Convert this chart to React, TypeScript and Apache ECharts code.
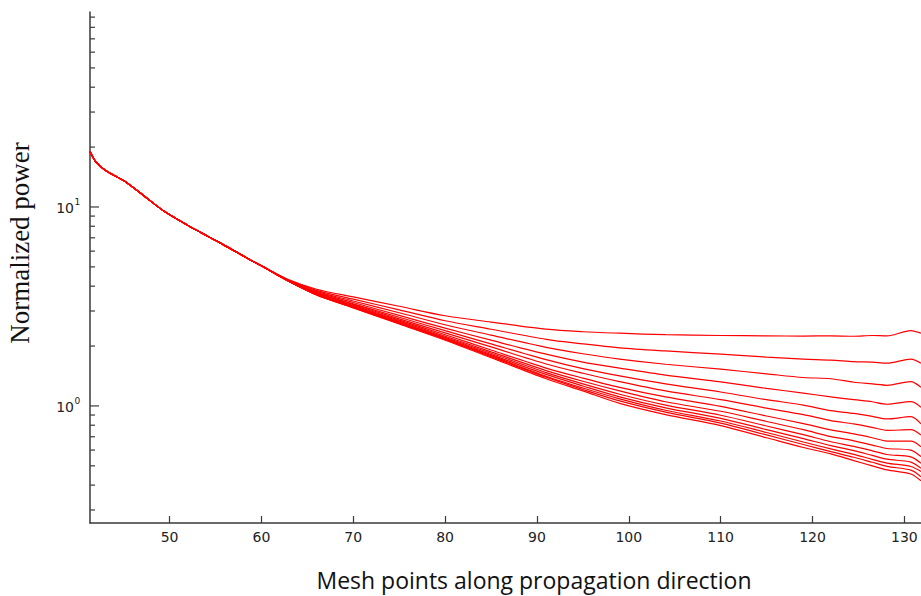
import React, { useEffect, useRef } from "react";
import * as echarts from "echarts";

// x range of the plot (mesh points)
const X_MIN = 41.34;
const X_MAX = 131.81;
const Y_MIN = 0.258;
const Y_MAX = 95.5;

// common beginning shared by every curve
const prefixX = [41.34, 42.0, 43.0, 44.1, 45.2, 47.3, 49.5, 52.8, 55.5, 58.8, 60];
const prefixY = [19.0, 16.8, 15.3, 14.3, 13.4, 11.3, 9.45, 7.7, 6.6, 5.42, 5.06];

// where the curves fan out
const tailX = [63, 66, 70, 75, 80, 85, 91, 95, 99, 104, 110, 115, 119, 122, 124.5, 126.5, 128.1, 130.7, 131.81];

const line1 = [4.30, 3.86, 3.53, 3.17, 2.84, 2.64, 2.43, 2.36, 2.32, 2.28, 2.26, 2.25, 2.245, 2.25, 2.24, 2.26, 2.25, 2.39, 2.32];
const line2 = [4.28, 3.81, 3.44, 3.04, 2.68, 2.43, 2.16, 2.05, 1.96, 1.89, 1.82, 1.76, 1.72, 1.70, 1.67, 1.66, 1.64, 1.72, 1.64];
const line3 = [4.27, 3.765, 3.37, 2.94, 2.56, 2.27, 1.97, 1.83, 1.72, 1.62, 1.53, 1.45, 1.39, 1.37, 1.315, 1.29, 1.27, 1.325, 1.24];
const line4 = [4.26, 3.73, 3.31, 2.85, 2.46, 2.14, 1.82, 1.66, 1.55, 1.43, 1.32, 1.225, 1.16, 1.11, 1.075, 1.05, 1.02, 1.05, 0.985];
const line5 = [4.25, 3.70, 3.26, 2.79, 2.39, 2.05, 1.71, 1.54, 1.415, 1.29, 1.175, 1.075, 1.01, 0.947, 0.917, 0.887, 0.86, 0.883, 0.812];
const line6 = [4.24, 3.683, 3.23, 2.74, 2.33, 1.98, 1.625, 1.46, 1.325, 1.19, 1.075, 0.975, 0.904, 0.844, 0.812, 0.78, 0.754, 0.76, 0.715];
const line7 = [4.24, 3.664, 3.20, 2.70, 2.28, 1.91, 1.55, 1.38, 1.24, 1.11, 0.995, 0.89, 0.815, 0.758, 0.723, 0.692, 0.666, 0.665, 0.624];
const line8 = [4.23, 3.65, 3.17, 2.67, 2.24, 1.87, 1.505, 1.33, 1.19, 1.05, 0.94, 0.835, 0.76, 0.701, 0.668, 0.636, 0.611, 0.60, 0.556];
const line9 = [4.23, 3.638, 3.155, 2.64, 2.21, 1.84, 1.47, 1.29, 1.145, 1.01, 0.898, 0.793, 0.717, 0.661, 0.626, 0.595, 0.57, 0.555, 0.515];
const line10 = [4.23, 3.63, 3.14, 2.62, 2.19, 1.81, 1.44, 1.26, 1.11, 0.978, 0.866, 0.76, 0.685, 0.632, 0.596, 0.564, 0.54, 0.522, 0.486];
const line11 = [4.23, 3.623, 3.13, 2.61, 2.17, 1.79, 1.41, 1.23, 1.085, 0.951, 0.84, 0.735, 0.659, 0.608, 0.571, 0.539, 0.516, 0.496, 0.468];
const line12 = [4.22, 3.617, 3.12, 2.595, 2.16, 1.77, 1.395, 1.21, 1.06, 0.931, 0.82, 0.715, 0.64, 0.589, 0.552, 0.521, 0.497, 0.476, 0.441];
const line13 = [4.22, 3.61, 3.11, 2.58, 2.14, 1.75, 1.37, 1.19, 1.03, 0.905, 0.797, 0.692, 0.618, 0.574, 0.531, 0.50, 0.477, 0.455, 0.42];

const lines = [line1, line2, line3, line4, line5, line6, line7, line8, line9, line10, line11, line12, line13];

// y-axis ticks (log scale)
const yMinorTicks = [0.3, 0.4, 0.5, 0.6, 0.7, 0.8, 0.9, 2, 3, 4, 5, 6, 7, 8, 9, 20, 30, 40, 50, 60, 70, 80, 90];
const yMajorTicks = [1, 10];
const yMajorExponents = ["0", "1"];

const xTitle = "Mesh points along propagation direction";
const yTitle = "Normalized power";

const AXIS_COLOR = "#3a3a3a";

export default function App() {
  const ref = useRef<HTMLDivElement>(null);

  useEffect(() => {
    if (!ref.current) return;
    const chart = echarts.init(ref.current, null, { renderer: "svg" });

    const lineSeries = lines.map((ln, k) => ({
      type: "line",
      name: "curve" + (k + 1),
      data: prefixX
        .map((x, i) => [x, prefixY[i]])
        .concat(tailX.map((x, i) => [x, ln[i]])),
      showSymbol: false,
      smooth: 0.3,
      lineStyle: { color: "#ff0000", width: 1.2 },
      z: 3,
    }));

    const tickData = yMinorTicks
      .map((v) => [X_MIN, v, -1])
      .concat(yMajorTicks.map((v, i) => [X_MIN, v, i]));

    const tickSeries = {
      type: "custom",
      coordinateSystem: "cartesian2d",
      silent: true,
      clip: false,
      z: 10,
      data: tickData,
      encode: { x: 0, y: 1 },
      renderItem: (params: any, api: any) => {
        const v = api.value(1);
        const idx = api.value(2);
        const p = api.coord([X_MIN, v]);
        const major = idx >= 0;
        const len = major ? 9 : 5;
        const children: any[] = [
          {
            type: "line",
            shape: { x1: p[0], y1: p[1], x2: p[0] + len, y2: p[1] },
            style: { stroke: AXIS_COLOR, lineWidth: 1.2 },
          },
        ];
        if (major) {
          children.push({
            type: "text",
            style: {
              text: "10",
              x: p[0] - 16,
              y: p[1] + 1,
              align: "right",
              verticalAlign: "middle",
              fontFamily: "DejaVu Sans",
              fontSize: 14,
              fill: "#222",
            },
          });
          children.push({
            type: "text",
            style: {
              text: yMajorExponents[idx],
              x: p[0] - 15.5,
              y: p[1] - 5,
              align: "left",
              verticalAlign: "middle",
              fontFamily: "DejaVu Sans",
              fontSize: 9,
              fill: "#222",
            },
          });
        }
        return { type: "group", children };
      },
    };

    chart.setOption({
      animation: false,
      backgroundColor: "#ffffff",
      grid: { left: 90, top: 12, right: 0, bottom: 73, containLabel: false, outerBoundsMode: "none" },
      xAxis: {
        type: "value",
        min: X_MIN,
        max: X_MAX,
        splitNumber: 9,
        axisLine: { show: true, lineStyle: { color: AXIS_COLOR, width: 1.5 } },
        axisTick: { show: true, inside: true, length: 7, lineStyle: { color: AXIS_COLOR, width: 1.2 } },
        axisLabel: {
          show: true,
          showMinLabel: false,
          showMaxLabel: false,
          margin: 7,
          fontFamily: "DejaVu Sans",
          fontSize: 14,
          color: "#222",
        },
        splitLine: { show: false },
      },
      yAxis: {
        type: "log",
        logBase: 10,
        min: Y_MIN,
        max: Y_MAX,
        axisLine: { show: true, lineStyle: { color: AXIS_COLOR, width: 1.5 } },
        axisTick: { show: false },
        axisLabel: { show: false },
        splitLine: { show: false },
        minorTick: { show: false },
      },
      graphic: [
        {
          type: "text",
          x: 534,
          y: 580,
          style: {
            text: xTitle,
            align: "center",
            verticalAlign: "middle",
            fontFamily: "Open Sans",
            fontSize: 23,
            fill: "#111",
          },
        },
        {
          type: "text",
          x: 20,
          y: 243,
          rotation: Math.PI / 2,
          style: {
            text: yTitle,
            align: "center",
            verticalAlign: "middle",
            fontFamily: "Liberation Serif",
            fontSize: 27,
            fill: "#111",
          },
        },
      ],
      series: [...lineSeries, tickSeries],
    });

    return () => {
      chart.dispose();
    };
  }, []);

  return (
    <div
      ref={ref}
      style={{ position: "fixed", left: 0, top: 0, width: 921, height: 596, background: "#fff" }}
    />
  );
}
